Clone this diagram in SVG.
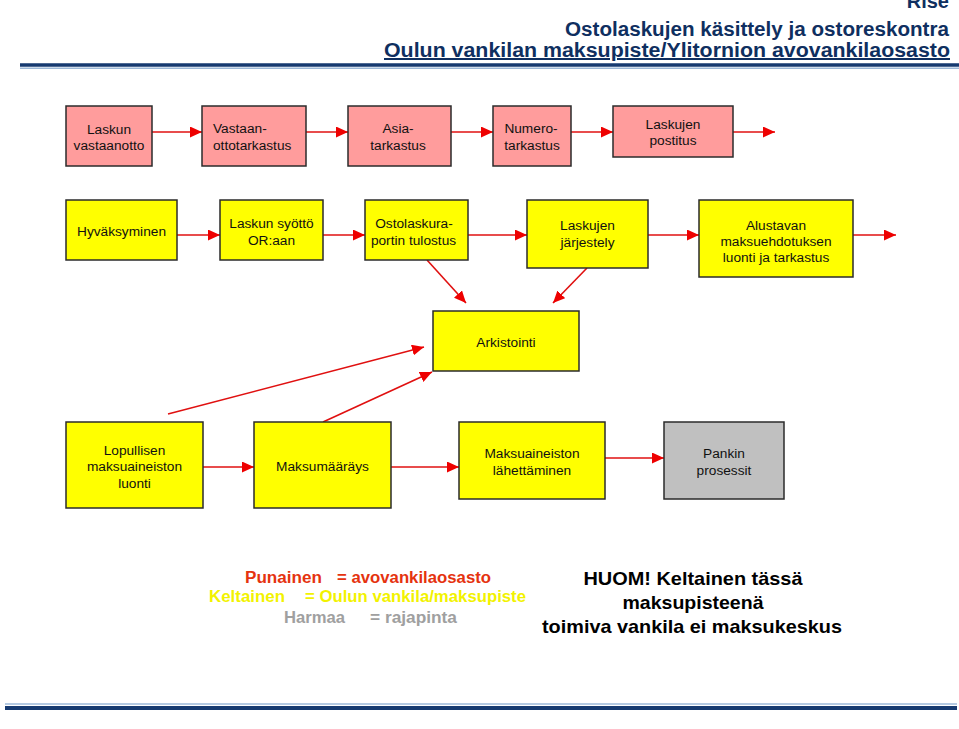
<svg xmlns="http://www.w3.org/2000/svg" width="959" height="729" viewBox="0 0 959 729">
<style>
.box{stroke:#2b2b2b;stroke-width:1.5}
.pink{fill:#ff9c9c}
.yel{fill:#ffff00}
.gray{fill:#c0c0c0}
.t{font-family:"Liberation Sans",Arial,sans-serif;font-size:13.7px;fill:#111;text-anchor:middle}
.c{fill:none;stroke:#e01010;stroke-width:1.6}
.hd{font-family:"Liberation Sans",Arial,sans-serif;font-size:20px;font-weight:bold;fill:#0f2f60;text-anchor:end}
.lg{font-family:"Liberation Sans",Arial,sans-serif;font-size:16px;font-weight:bold}
.nt{font-family:"Liberation Sans",Arial,sans-serif;font-size:19px;font-weight:bold;fill:#000;text-anchor:middle}
</style>
<defs>
<marker id="ah" markerUnits="userSpaceOnUse" markerWidth="13" markerHeight="11" refX="12" refY="5.5" orient="auto">
<path d="M0,0 L12,5.5 L0,11 z" fill="#ee0000"/>
</marker>
</defs>
<rect width="959" height="729" fill="#ffffff"/>
<g id="header">
<text class="hd" x="949" y="8">Rise</text>
<text class="hd" x="949" y="36" textLength="384" lengthAdjust="spacingAndGlyphs">Ostolaskujen käsittely ja ostoreskontra</text>
<text class="hd" x="950" y="57" textLength="566" lengthAdjust="spacingAndGlyphs" text-decoration="underline">Oulun vankilan maksupiste/Ylitornion avovankilaosasto</text>
<line x1="20" y1="65" x2="959" y2="65" stroke="#163a70" stroke-width="3.5"/>
<line x1="20" y1="68.3" x2="959" y2="68.3" stroke="#9db9d8" stroke-width="1.5"/>
</g>
<g id="connectors">
<line class="c" x1="152" y1="132" x2="202" y2="132" marker-end="url(#ah)"/>
<line class="c" x1="306" y1="132" x2="348" y2="132" marker-end="url(#ah)"/>
<line class="c" x1="451" y1="132" x2="493" y2="132" marker-end="url(#ah)"/>
<line class="c" x1="571" y1="132" x2="613" y2="132" marker-end="url(#ah)"/>
<line class="c" x1="733" y1="132" x2="775" y2="132" marker-end="url(#ah)"/>
<line class="c" x1="177" y1="235" x2="220" y2="235" marker-end="url(#ah)"/>
<line class="c" x1="323" y1="235" x2="365" y2="235" marker-end="url(#ah)"/>
<line class="c" x1="468" y1="235" x2="527" y2="235" marker-end="url(#ah)"/>
<line class="c" x1="648" y1="235" x2="699" y2="235" marker-end="url(#ah)"/>
<line class="c" x1="853" y1="235" x2="896" y2="235" marker-end="url(#ah)"/>
<line class="c" x1="427" y1="260" x2="466" y2="303" marker-end="url(#ah)"/>
<line class="c" x1="587" y1="268" x2="553" y2="303" marker-end="url(#ah)"/>
<line class="c" x1="168" y1="414" x2="424" y2="347" marker-end="url(#ah)"/>
<line class="c" x1="323" y1="422" x2="432" y2="372" marker-end="url(#ah)"/>
<line class="c" x1="203" y1="467" x2="254" y2="467" marker-end="url(#ah)"/>
<line class="c" x1="391" y1="467" x2="459" y2="467" marker-end="url(#ah)"/>
<line class="c" x1="605" y1="458" x2="664" y2="458" marker-end="url(#ah)"/>
</g>
<g id="n1"><rect class="box pink" x="66" y="106" width="86" height="60"/><text class="t" x="109" y="134">Laskun</text><text class="t" x="109" y="150">vastaanotto</text></g>
<g id="n2"><rect class="box pink" x="202" y="106" width="104" height="60"/><text class="t" x="213" y="133" style="text-anchor:start">Vastaan-</text><text class="t" x="213" y="150" style="text-anchor:start">ottotarkastus</text></g>
<g id="n3"><rect class="box pink" x="348" y="106" width="103" height="60"/><text class="t" x="398" y="133">Asia-</text><text class="t" x="398" y="150">tarkastus</text></g>
<g id="n4"><rect class="box pink" x="493" y="106" width="78" height="60"/><text class="t" x="531" y="133">Numero-</text><text class="t" x="532" y="150">tarkastus</text></g>
<g id="n5"><rect class="box pink" x="613" y="106" width="120" height="51"/><text class="t" x="673" y="128.5">Laskujen</text><text class="t" x="673" y="145">postitus</text></g>
<g id="n6"><rect class="box yel" x="66" y="200" width="111" height="60"/><text class="t" x="121.5" y="236">Hyväksyminen</text></g>
<g id="n7"><rect class="box yel" x="220" y="200" width="103" height="60"/><text class="t" x="271.5" y="227.5">Laskun syöttö</text><text class="t" x="271.5" y="244.5">OR:aan</text></g>
<g id="n8"><rect class="box yel" x="365" y="200" width="103" height="60"/><text class="t" x="414" y="227.5">Ostolaskura-</text><text class="t" x="413.5" y="244.5">portin tulostus</text></g>
<g id="n9"><rect class="box yel" x="527" y="200" width="121" height="68"/><text class="t" x="587.5" y="230">Laskujen</text><text class="t" x="587.5" y="246.5">järjestely</text></g>
<g id="n10"><rect class="box yel" x="699" y="200" width="154" height="77"/><text class="t" x="776" y="229.5">Alustavan</text><text class="t" x="776" y="245.5">maksuehdotuksen</text><text class="t" x="776" y="261.5">luonti ja tarkastus</text></g>
<g id="n11"><rect class="box yel" x="433" y="311" width="146" height="60"/><text class="t" x="506" y="347">Arkistointi</text></g>
<g id="n12"><rect class="box yel" x="66" y="422" width="137" height="86"/><text class="t" x="134.5" y="454.5">Lopullisen</text><text class="t" x="134.5" y="471">maksuaineiston</text><text class="t" x="134.5" y="487.5">luonti</text></g>
<g id="n13"><rect class="box yel" x="254" y="422" width="137" height="86"/><text class="t" x="322.5" y="471">Maksumääräys</text></g>
<g id="n14"><rect class="box yel" x="459" y="422" width="146" height="77"/><text class="t" x="532" y="458">Maksuaineiston</text><text class="t" x="532" y="475">lähettäminen</text></g>
<g id="n15"><rect class="box gray" x="664" y="422" width="120" height="77"/><text class="t" x="724" y="458">Pankin</text><text class="t" x="724" y="475">prosessit</text></g>
<g id="legend">
<text class="lg" x="245" y="583" fill="#e5330f" textLength="77" lengthAdjust="spacingAndGlyphs">Punainen</text>
<text class="lg" x="337" y="583" fill="#e5330f" textLength="154" lengthAdjust="spacingAndGlyphs">= avovankilaosasto</text>
<text class="lg" x="209" y="602" fill="#f2f200" textLength="76" lengthAdjust="spacingAndGlyphs">Keltainen</text>
<text class="lg" x="305" y="602" fill="#f2f200" textLength="221" lengthAdjust="spacingAndGlyphs">= Oulun vankila/maksupiste</text>
<text class="lg" x="284" y="623" fill="#a0a0a0" textLength="61" lengthAdjust="spacingAndGlyphs">Harmaa</text>
<text class="lg" x="370" y="623" fill="#a0a0a0" textLength="87" lengthAdjust="spacingAndGlyphs">= rajapinta</text>
</g>
<g id="note">
<text class="nt" x="693" y="585" textLength="219" lengthAdjust="spacingAndGlyphs">HUOM! Keltainen tässä</text>
<text class="nt" x="693" y="609" textLength="141" lengthAdjust="spacingAndGlyphs">maksupisteenä</text>
<text class="nt" x="692" y="633" textLength="300" lengthAdjust="spacingAndGlyphs">toimiva vankila ei maksukeskus</text>
</g>
<g id="footer">
<line x1="5" y1="704" x2="957" y2="704" stroke="#9db9d8" stroke-width="1.5"/>
<line x1="5" y1="708" x2="957" y2="708" stroke="#163a70" stroke-width="4"/>
</g>
</svg>
